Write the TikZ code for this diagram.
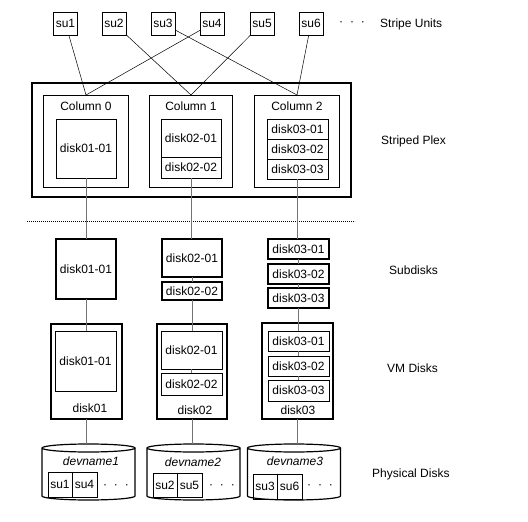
\documentclass[tikz,border=0pt]{standalone}
\usepackage{fontspec}
\setmainfont{Liberation Sans}
\begin{document}
\begin{tikzpicture}[x=1pt,y=-1pt,
  font=\fontsize{12}{14}\selectfont,
  sz/.style 2 args={minimum width=#1pt, minimum height=#2pt},
  box/.style={draw, inner sep=0pt, outer sep=0pt, line width=0.7pt},
  thickbox/.style={box, line width=1.4pt},
  conn/.style={draw=black!55, line width=0.8pt},
  sul/.style={line width=0.5pt},
  lbl/.style={anchor=west, inner sep=0pt},
  cylshape/.style={inner sep=0pt, outer sep=0pt, minimum width=93pt, minimum height=56pt}]
\useasboundingbox (0,0) rectangle (528,522);

% stripe units
\foreach \i/\x in {1/65.5,2/114,3/163,4/212,5/262,6/311}
  \node[box, sz={24}{23}] (su\i) at (\x,23.5) {su\i};
\node (sudots) at (352,24) {·\hspace{7pt}·\hspace{7pt}·};
\node[lbl] (lsu) at (380,24) {Stripe Units};

% striped plex
\node[thickbox, sz={319}{114}] (plex) at (191.5,140) {};
\node[box, sz={85}{92}] (col0) at (86,141) {};
\node[box, sz={83}{92}] (col1) at (191,141) {};
\node[box, sz={85}{92}] (col2) at (297,141) {};
\node (c0l) at (86,106) {Column 0};
\node (c1l) at (191,106) {Column 1};
\node (c2l) at (297,106) {Column 2};
\node[box, sz={60}{59}] (pd1) at (86,148.5) {disk01-01};
\node[box, sz={60}{38}] (pd2a) at (191,138) {disk02-01};
\node[box, sz={60}{21}] (pd2b) at (191,167.5) {disk02-02};
\node[box, sz={61}{20}] (pd3a) at (297.5,129) {disk03-01};
\node[box, sz={61}{20}] (pd3b) at (297.5,149) {disk03-02};
\node[box, sz={61}{20}] (pd3c) at (297.5,169) {disk03-03};
\node[lbl] (lplex) at (381,141) {Striped Plex};

% dotted separator
\coordinate (dl) at (27,221);
\coordinate (dr) at (355,221);
\draw[line width=0.8pt, dash pattern=on 0.8pt off 1.2pt] (dl) -- (dr);

% subdisks
\node[thickbox, sz={60}{60}] (sd1) at (86,269) {disk01-01};
\node[thickbox, sz={60}{38}] (sd2a) at (192,258) {disk02-01};
\node[thickbox, sz={60}{18}] (sd2b) at (192,291) {disk02-02};
\node[thickbox, sz={61}{20}] (sd3a) at (298.5,249) {disk03-01};
\node[thickbox, sz={61}{20}] (sd3b) at (298.5,274) {disk03-02};
\node[thickbox, sz={61}{20}] (sd3c) at (298.5,298) {disk03-03};
\node[lbl] (lsd) at (389,270) {Subdisks};

% VM disks
\node[thickbox, sz={71}{95}] (vm1) at (86.5,371.5) {};
\node[box, sz={61}{60}] (vd1) at (85.5,361) {disk01-01};
\node (vm1l) at (90,408) {disk01};
\node[thickbox, sz={70}{95}] (vm2) at (192,371.5) {};
\node[box, sz={61}{38}] (vd2a) at (191.5,350) {disk02-01};
\node[box, sz={61}{22}] (vd2b) at (191.5,384) {disk02-02};
\node (vm2l) at (195,410) {disk02};
\node[thickbox, sz={71}{96}] (vm3) at (297.5,371) {};
\node[box, sz={61}{20}] (vd3a) at (298.5,341) {disk03-01};
\node[box, sz={61}{20}] (vd3b) at (298.5,366) {disk03-02};
\node[box, sz={61}{21}] (vd3c) at (298.5,390.5) {disk03-03};
\node (vm3l) at (298,410) {disk03};
\node[lbl] (lvm) at (387,368) {VM Disks};

% physical disks
\node[cylshape] (cyl1) at (88.5,472) {};
\node[cylshape] (cyl2) at (193.5,472) {};
\node[cylshape] (cyl3) at (294,472) {};
\foreach \c in {cyl1,cyl2,cyl3}{
  \draw[line width=1.2pt] ([yshift=-4pt]\c.north west) arc[start angle=180, end angle=540, x radius=46.5pt, y radius=4pt]
    -- ([yshift=4pt]\c.south west) arc[start angle=180, end angle=360, x radius=46.5pt, y radius=4pt]
    -- ([yshift=-4pt]\c.north east);
}
\node (dn1) at (91,461) {\itshape devname1};
\node (dn2) at (193,462) {\itshape devname2};
\node (dn3) at (295,461) {\itshape devname3};
\node[box, sz={24}{25}] (c1a) at (60,484.5) {su1};
\node[box, sz={25}{25}] (c1b) at (84.5,484.5) {su4};
\node[box, sz={24}{24}] (c2a) at (165,485) {su2};
\node[box, sz={25}{24}] (c2b) at (189.5,485) {su5};
\node[box, sz={24}{25}] (c3a) at (265,486.5) {su3};
\node[box, sz={25}{25}] (c3b) at (289.5,486.5) {su6};
\node (c1d) at (116,487) {·\hspace{7pt}·\hspace{7pt}·};
\node (c2d) at (222,487) {·\hspace{7pt}·\hspace{7pt}·};
\node (c3d) at (320,487) {·\hspace{7pt}·\hspace{7pt}·};
\node[lbl] (lpd) at (372,474) {Physical Disks};

% stripe unit connectors
\draw[sul] (su1) -- (col0.north);
\draw[sul] (su4) -- (col0.north);
\draw[sul] (su2) -- (col1.north);
\draw[sul] (su5) -- (col1.north);
\draw[sul] (su3) -- (col2.north);
\draw[sul] (su6) -- (col2.north);

% vertical connectors
\draw[conn] (pd1.south) -- (pd1.south |- sd1.north);
\draw[conn] (sd1.south) -- (sd1.south |- vd1.north);
\draw[conn] (vm1.south) -- (vm1.south |- cyl1.north);

\draw[conn] (pd2b.south) -- (pd2b.south |- sd2a.north);
\draw[conn] (sd2a.south) -- (sd2a.south |- sd2b.north);
\draw[conn] (sd2b.south) -- (sd2b.south |- vd2a.north);
\draw[conn] (vd2a.south) -- (vd2a.south |- vd2b.north);
\draw[conn] (vm2.south) -- (vm2.south |- cyl2.north);

\draw[conn] (pd3c.south) -- (pd3c.south |- sd3a.north);
\draw[conn] (sd3a.south) -- (sd3a.south |- sd3b.north);
\draw[conn] (sd3b.south) -- (sd3b.south |- sd3c.north);
\draw[conn] (sd3c.south) -- (sd3c.south |- vd3a.north);
\draw[conn] (vd3a.south) -- (vd3a.south |- vd3b.north);
\draw[conn] (vd3b.south) -- (vd3b.south |- vd3c.north);
\draw[conn] (vm3.south) -- (vm3.south |- cyl3.north);
\end{tikzpicture}
\end{document}
